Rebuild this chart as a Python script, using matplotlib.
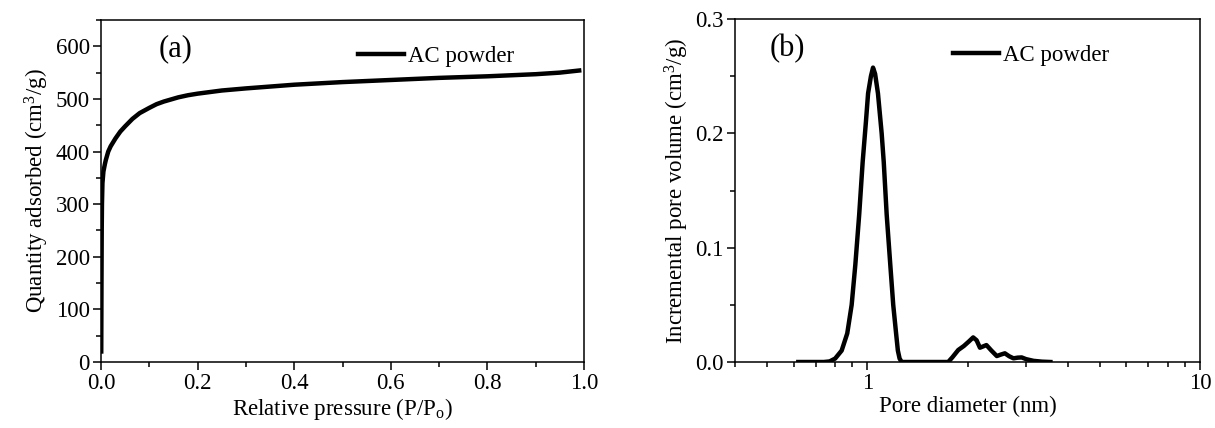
import numpy as np
import matplotlib
matplotlib.use("Agg")
import matplotlib.pyplot as plt
from matplotlib.ticker import MultipleLocator, FixedLocator, NullFormatter

plt.rcParams['font.family'] = ['Liberation Serif', 'DejaVu Serif']
plt.rcParams['mathtext.fontset'] = 'custom'
plt.rcParams['mathtext.rm'] = 'Liberation Serif'
plt.rcParams['mathtext.it'] = 'Liberation Serif:italic'

# (a) N2 isotherm
p_rel = [0.0005, 0.001, 0.0015, 0.002, 0.003, 0.005, 0.008, 0.010, 0.015, 0.02,
         0.03, 0.04, 0.05, 0.065, 0.08, 0.09, 0.10, 0.115, 0.13, 0.145, 0.16,
         0.18, 0.20, 0.25, 0.30, 0.40, 0.50, 0.60, 0.70, 0.80, 0.90, 0.95, 0.99]
q_ads = [20, 150, 250, 300, 340, 362, 376, 384, 400, 410,
         425, 438, 448, 462, 473, 478, 483, 490, 495, 499, 503,
         507, 510, 516, 520, 527, 532, 536, 540, 543, 547, 550, 554]

# (b) pore size distribution
d_pore = [0.62, 0.74, 0.77, 0.80, 0.837, 0.87, 0.897, 0.92, 0.945, 0.968, 0.99,
          1.005, 1.025, 1.04, 1.055, 1.076, 1.104, 1.12, 1.143, 1.172, 1.196,
          1.22, 1.235, 1.25, 1.268, 1.75, 1.80, 1.876, 1.95, 2.02, 2.08,
          2.13, 2.18, 2.28, 2.36, 2.45, 2.52, 2.59, 2.67, 2.75, 2.83, 2.91,
          3.00, 3.16, 3.35, 3.55]
v_inc = [0, 0, 0.0005, 0.003, 0.010, 0.025, 0.050, 0.085, 0.129, 0.175, 0.210,
         0.235, 0.250, 0.2575, 0.252, 0.235, 0.200, 0.175, 0.129, 0.085, 0.050,
         0.025, 0.010, 0.003, 0, 0, 0.004, 0.0105, 0.014, 0.018, 0.0215,
         0.019, 0.0125, 0.0148, 0.010, 0.0052, 0.0065, 0.0076, 0.005, 0.0032, 0.0038, 0.004,
         0.0025, 0.001, 0.0003, 0]

fig = plt.figure(figsize=(12.15, 4.28), dpi=100)
ax1 = fig.add_axes([101/1215, 1-362/428, (584-101)/1215, (362-20)/428])
ax2 = fig.add_axes([735/1215, 1-362/428, (1200-735)/1215, (362-19)/428])

fs = 16.5
ax1.plot(p_rel, q_ads, color='k', lw=3.2, label='AC powder')
ax1.set_xlim(0, 1.0)
ax1.set_ylim(0, 650)
ax1.xaxis.set_major_locator(MultipleLocator(0.2))
ax1.xaxis.set_minor_locator(MultipleLocator(0.1))
ax1.yaxis.set_major_locator(MultipleLocator(100))
ax1.yaxis.set_minor_locator(MultipleLocator(50))
ax1.set_xlabel('Relative pressure (P/P$_\\mathrm{o}$)', fontsize=fs, labelpad=1)
ax1.set_ylabel('Quantity adsorbed (cm$^3$/g)', fontsize=fs, labelpad=3)
ax1.text(0.12, 0.915, '(a)', transform=ax1.transAxes, fontsize=22, va='center')
ax1.legend(loc='upper left', bbox_to_anchor=(0.49, 0.985), frameon=False,
           fontsize=fs, handlelength=2.0, handletextpad=0.15)
ax1.yaxis.set_major_formatter(plt.FuncFormatter(lambda v, p: f'{v:.0f}'))
ax1.xaxis.set_major_formatter(plt.FuncFormatter(lambda v, p: f'{v:.1f}'))

ax2.plot(d_pore, v_inc, color='k', lw=3.2, label='AC powder')
ax2.set_xscale('log')
ax2.set_xlim(0.4, 10)
ax2.set_ylim(0, 0.3)
ax2.xaxis.set_major_locator(FixedLocator([1, 10]))
ax2.set_xticklabels(['1', '10'])
ax2.xaxis.set_minor_locator(FixedLocator([0.4, 0.5, 0.6, 0.7, 0.8, 0.9, 2, 3, 4, 5, 6, 7, 8, 9]))
ax2.xaxis.set_minor_formatter(NullFormatter())
ax2.yaxis.set_major_locator(MultipleLocator(0.1))
ax2.yaxis.set_minor_locator(MultipleLocator(0.05))
ax2.yaxis.set_major_formatter(plt.FuncFormatter(lambda v, p: f'{v:.1f}'))
ax2.set_xlabel('Pore diameter (nm)', fontsize=fs, labelpad=1)
ax2.set_ylabel('Incremental pore volume (cm$^3$/g)', fontsize=fs, labelpad=3)
ax2.text(0.075, 0.915, '(b)', transform=ax2.transAxes, fontsize=22, va='center')
ax2.legend(loc='upper left', bbox_to_anchor=(0.425, 0.985), frameon=False,
           fontsize=fs, handlelength=2.0, handletextpad=0.15)

for ax in (ax1, ax2):
    ax.tick_params(which='major', direction='out', length=6, width=1.1, labelsize=fs, pad=2)
    ax.tick_params(which='minor', direction='out', length=3.5, width=1.1)
    ax.tick_params(top=False, right=False)
    for s in ax.spines.values():
        s.set_linewidth(1.1)

fig.savefig('out.png', dpi=100)
